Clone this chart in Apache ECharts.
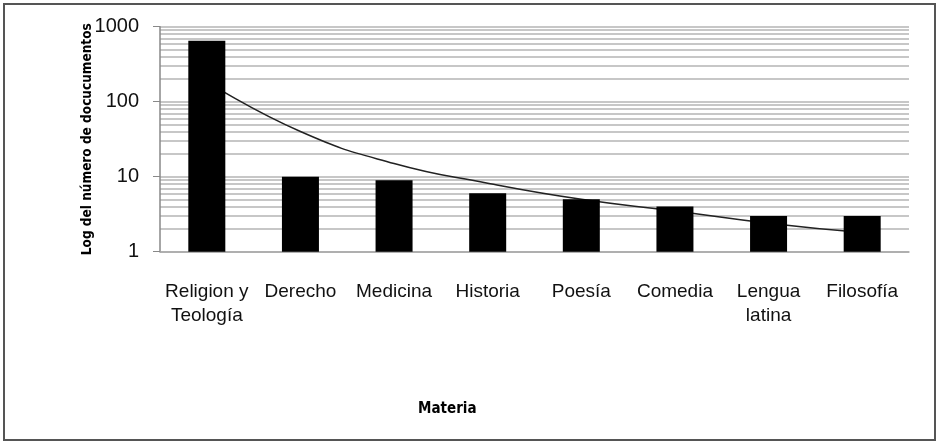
<!DOCTYPE html>
<html>
<head>
<meta charset="utf-8">
<script src="https://cdn.jsdelivr.net/npm/echarts@6/dist/echarts.min.js"></script>
<style>
html,body{margin:0;padding:0;background:#fff;}
#c{width:939px;height:443px;}
</style>
</head>
<body>
<div id="c"></div>
<script>
// ---- data ----
var categories = ["Religion y\nTeología", "Derecho", "Medicina", "Historia", "Poesía", "Comedia", "Lengua\nlatina", "Filosofía"];
var documentos = [650, 10, 9, 6, 5, 4, 3, 3];
var tendencia = [185, 40, 15, 8.2, 5.0, 3.5, 2.4, 1.8];
var yTicks = [1, 10, 100, 1000];
var minorGrid = [2,3,4,5,6,7,8,9,20,30,40,50,60,70,80,90,200,300,400,500,600,700,800,900];
var yTitle = "Log del número de docucumentos";
var xTitle = "Materia";

var labelFont = "'Liberation Sans', sans-serif";
var titleFont = "'DejaVu Sans Condensed', 'Liberation Sans', sans-serif";
var chart = echarts.init(document.getElementById('c'), null, {renderer: 'canvas'});

var option = {
  animation: false,
  backgroundColor: '#fff',
  grid: {left: 160, right: 30, top: 26.7, bottom: 191.3},
  xAxis: {
    type: 'category',
    data: categories,
    axisLine: {show: true, lineStyle: {color: '#a8a8a8', width: 1.5}},
    axisTick: {show: false},
    axisLabel: {color: '#111', fontFamily: labelFont, fontSize: 19, lineHeight: 24, margin: 28, interval: 0}
  },
  yAxis: {
    type: 'log',
    logBase: 10,
    min: 1,
    max: 1000,
    name: yTitle,
    nameLocation: 'middle',
    nameGap: 66,
    nameMoveOverlap: false,
    nameRotate: 90,
    nameTextStyle: {fontFamily: titleFont, fontWeight: 'bold', fontSize: 13.5, color: '#000'},
    axisLine: {show: true, lineStyle: {color: '#888', width: 1.5}},
    axisTick: {show: true, length: 7, lineStyle: {color: '#888'}},
    axisLabel: {color: '#111', fontFamily: labelFont, fontSize: 20, margin: 21,
      formatter: function (v) { return yTicks.indexOf(Math.round(v)) >= 0 ? String(Math.round(v)) : ''; }},
    splitLine: {show: true, lineStyle: {color: '#b4b4b4', width: 1.5}}
  },
  graphic: [
    {type: 'rect', shape: {x: 4, y: 4, width: 931, height: 436}, style: {fill: 'none', stroke: '#555', lineWidth: 2}, silent: true, z: 100},
    {type: 'text', left: 418, top: 402, style: {text: xTitle, font: "bold 15px " + titleFont, fill: '#000'}}
  ],
  series: [
    {
      type: 'line',
      data: tendencia,
      smooth: 0.5,
      symbol: 'none',
      z: 1,
      lineStyle: {color: '#222', width: 1.5},
      markLine: {
        silent: true,
        symbol: 'none',
        label: {show: false},
        lineStyle: {color: '#b4b4b4', width: 1.5, type: 'solid'},
        data: minorGrid.map(function (v) { return {yAxis: v}; }),
        z: 0
      }
    },
    {
      type: 'bar',
      data: documentos,
      barWidth: 37,
      z: 3,
      itemStyle: {color: '#000'}
    }
  ]
};
chart.setOption(option);
</script>
</body>
</html>
